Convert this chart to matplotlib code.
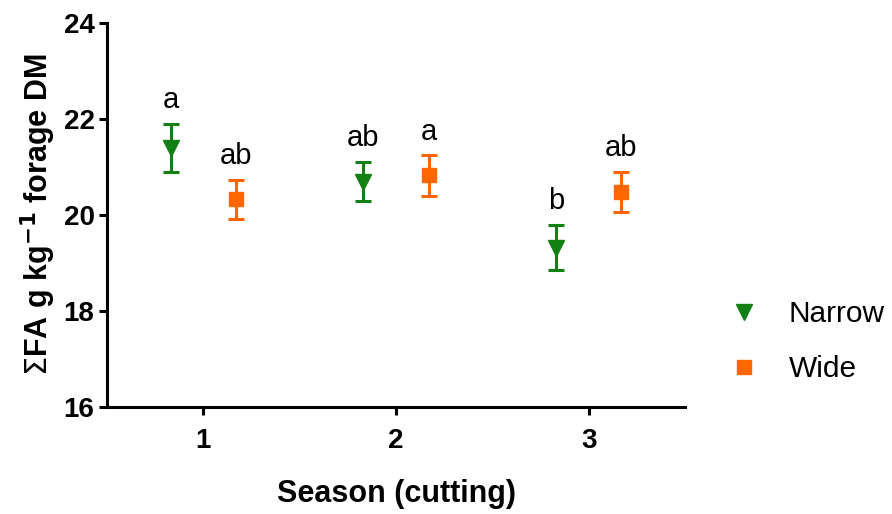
import matplotlib
matplotlib.use("Agg")
import matplotlib.pyplot as plt
import numpy as np

plt.rcParams['font.family'] = ['Liberation Sans', 'DejaVu Sans']

seasons = [1, 2, 3]
season_labels = ["1", "2", "3"]

narrow_mean = [21.40, 20.69, 19.32]
narrow_err = [0.50, 0.41, 0.47]
narrow_letters = ["a", "ab", "b"]

wide_mean = [20.32, 20.82, 20.47]
wide_err = [0.41, 0.42, 0.42]
wide_letters = ["ab", "a", "ab"]

green = "#138013"
orange = "#ff6600"
offset = 0.17

fig = plt.figure(figsize=(8.92, 5.14), dpi=100)
ax = fig.add_axes([0.12, 0.208, 0.648, 0.748])

x = np.array(seasons, dtype=float)

ax.errorbar(x - offset, narrow_mean, yerr=narrow_err, fmt='v', color=green,
            markersize=11, elinewidth=2.2, capsize=6, capthick=2.2,
            label="Narrow", zorder=3)
ax.errorbar(x + offset, wide_mean, yerr=wide_err, fmt='s', color=orange,
            markersize=10, elinewidth=2.2, capsize=6, capthick=2.2,
            label="Wide", zorder=3)

for xi, m, e, t in zip(x - offset, narrow_mean, narrow_err, narrow_letters):
    ax.annotate(t, (xi, m + e), xytext=(0, 7), textcoords="offset points",
                ha="center", va="bottom", fontsize=21)
for xi, m, e, t in zip(x + offset, wide_mean, wide_err, wide_letters):
    ax.annotate(t, (xi, m + e), xytext=(0, 7), textcoords="offset points",
                ha="center", va="bottom", fontsize=21)

ax.set_xlim(0.5, 3.5)
ax.set_ylim(16, 24)
ax.set_xticks(seasons)
ax.set_xticklabels(season_labels)
ax.set_yticks([16, 18, 20, 22, 24])

for side in ("top", "right"):
    ax.spines[side].set_visible(False)
for side in ("left", "bottom"):
    ax.spines[side].set_linewidth(2.2)

ax.tick_params(axis="both", width=2.2, length=6, labelsize=20)
ax.tick_params(axis="x", pad=9)
ax.tick_params(axis="y", pad=3)
for lbl in ax.get_xticklabels() + ax.get_yticklabels():
    lbl.set_fontweight("bold")

ax.set_xlabel("Season (cutting)", fontsize=22, fontweight="bold", labelpad=18)
ax.set_ylabel(r"$\Sigma$FA g kg$^{\mathbf{-1}}$ forage DM", fontsize=22,
              fontweight="bold", labelpad=4)

handles, labels = ax.get_legend_handles_labels()
handles = [h[0] for h in handles]
fig.legend(handles, labels, loc="center left", bbox_to_anchor=(0.787, 0.335),
           frameon=False, fontsize=21.5, handletextpad=1.0, labelspacing=0.9,
           handlelength=1.0)

fig.savefig("out.png", dpi=100)
